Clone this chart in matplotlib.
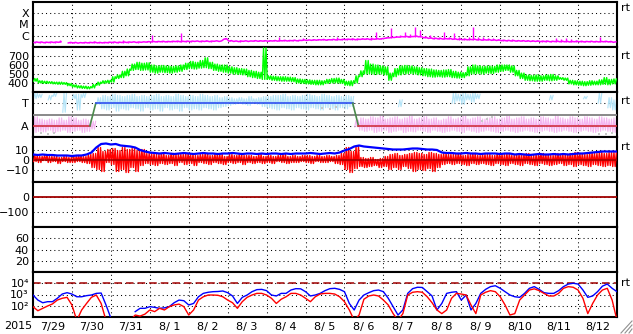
import numpy as np
import matplotlib
matplotlib.use("Agg")
import matplotlib.pyplot as plt
from matplotlib.ticker import NullLocator
from matplotlib.lines import Line2D

plt.rcParams['font.family'] = ['DejaVu Sans']

nan = np.nan
# ---------------- data ----------------
year_label = '2015'
day_labels = ['7/29', '7/30', '7/31', '8/ 1', '8/ 2', '8/ 3', '8/ 4', '8/ 5',
              '8/ 6', '8/ 7', '8/ 8', '8/ 9', '8/10', '8/11', '8/12']
electron_tick_labels = ['10\u2074', '10\u00b3', '10\u00b2']
win_hours = np.arange(0, 360, 3)      # 3-hour windows starting 7/29 00UT
pt_hours = np.arange(0, 363, 3)       # 3-hour samples

# GOES X-ray flux, window base / peak (units of 1e-7 W/m2)
xray_base = [2.5, 2.5, 2.4, 2.5, 2.5, 2.6, nan, 2.3,
             2.3, 2.2, 2.3, 2.3, 2.4, 2.3, 2.3, 2.4,
             2.5, 2.4, 2.5, 2.5, 2.6, 2.5, 2.6, 2.7,
             2.8, 2.8, 2.9, 2.8, 2.9, 3.0, 2.9, 3.0,
             3.0, 3.1, 3.0, 3.1, 3.0, 3.2, 3.1, 5.0,
             3.3, 3.1, 3.0, 3.2, 3.1, 3.3, 3.2, 3.3,
             3.2, 3.4, 3.3, 3.5, 3.4, 3.6, 3.5, 3.8,
             3.8, 3.9, 4.0, 4.2, 4.0, 4.3, 4.2, 4.4,
             4.5, 4.6, 4.4, 4.7, 4.8, 4.6, 4.9, 5.0,
             5.8, 6.5, 7.0, 7.5, 8.0, 7.5, 8.5, 8.0,
             6.5, 5.8, 5.4, 5.2, 5.0, 5.2, 4.8, 4.6,
             4.4, 4.3, 4.5, 4.2, 4.0, 4.1, 3.9, 3.8,
             3.6, 3.5, 3.4, 3.3, 3.3, 3.2, 3.1, 3.1,
             3.0, 3.0, 2.9, 3.0, 2.9, 2.9, 2.8, 2.9,
             2.9, 2.8, 2.9, 2.8, 2.8, 2.9, 2.8, 2.6]
xray_peak = [2.9, 2.8, 2.8, 2.9, 2.8, 4.0, nan, 2.6,
             2.6, 2.5, 2.7, 2.6, 3.5, 2.6, 2.6, 2.8,
             2.8, 2.8, 4.0, 2.9, 3.0, 3.0, 2.9, 3.1,
             11.7, 3.2, 3.3, 3.4, 3.3, 3.5, 16.0, 3.4,
             3.4, 3.6, 3.5, 4.5, 3.4, 3.6, 3.5, 6.3,
             3.9, 3.6, 4.0, 3.7, 3.6, 4.2, 3.8, 3.9,
             3.8, 4.5, 7.8, 4.0, 3.9, 4.5, 4.2, 6.0,
             4.6, 4.8, 5.0, 5.5, 4.8, 5.6, 8.5, 5.2,
             5.5, 5.8, 6.0, 6.5, 6.2, 7.0, 23.0, 6.2,
             7.0, 46.0, 10.0, 11.0, 22.0, 14.0, 63.0, 33.0,
             9.0, 12.0, 8.0, 7.5, 21.0, 8.0, 17.0, 7.0,
             6.5, 7.0, 60.0, 8.0, 7.0, 6.0, 6.5, 5.5,
             4.4, 4.2, 5.0, 4.0, 4.5, 4.0, 3.8, 4.0,
             3.6, 4.0, 3.5, 6.0, 5.0, 6.0, 5.5, 3.8,
             3.4, 3.5, 3.3, 3.4, 7.5, 3.5, 3.4, 3.0]

# Solar wind speed, window min / max (km/s)
speed_lo = [420, 400, 395, 395, 390, 385, 385, 370,
            355, 345, 340, 335, 345, 375, 395, 400,
            410, 450, 460, 480, 540, 550, 540, 545,
            520, 510, 520, 515, 510, 520, 530, 550,
            560, 555, 565, 570, 560, 540, 530, 520,
            510, 500, 495, 490, 470, 460, 450, 440,
            440, 430, 425, 420, 420, 415, 400, 395,
            390, 385, 380, 380, 395, 400, 400, 395,
            375, 370, 400, 470, 500, 500, 495, 500,
            490, 430, 470, 490, 500, 505, 500, 490,
            480, 470, 465, 470, 465, 470, 460, 455,
            460, 480, 500, 505, 500, 510, 505, 520,
            530, 540, 520, 480, 450, 430, 425, 420,
            420, 430, 425, 430, 440, 430, 390, 380,
            375, 370, 375, 380, 380, 385, 380, 390]
speed_hi = [450, 425, 420, 415, 410, 410, 405, 395,
            380, 370, 365, 360, 385, 410, 425, 430,
            470, 490, 530, 555, 610, 630, 620, 625,
            600, 590, 595, 590, 585, 590, 600, 620,
            640, 630, 650, 680, 630, 610, 600, 600,
            580, 570, 560, 555, 540, 530, 520, 790,
            480, 475, 470, 470, 465, 460, 445, 440,
            435, 430, 430, 425, 440, 450, 455, 440,
            420, 425, 480, 535, 650, 610, 600, 590,
            580, 510, 560, 590, 595, 590, 580, 570,
            560, 555, 545, 540, 545, 550, 530, 520,
            515, 580, 600, 590, 585, 590, 585, 600,
            600, 600, 590, 540, 510, 490, 485, 490,
            480, 490, 495, 480, 460, 455, 430, 425,
            420, 415, 425, 420, 435, 460, 440, 445]

# IMF sector (phi) scatter envelopes, panel level units (A=1, T=3)
toward_lo = [3.4, 3.5, nan, 3.3, 3.6, nan, 2.2, nan,
             3.4, 2.4, 3.5, nan, nan, 2.9, 2.5, 2.4,
             2.6, 2.3, 2.5, 2.4, 2.6, 2.5, 2.3, 2.6,
             2.4, 2.5, 2.3, 2.6, 2.4, 2.5, 2.3, 2.6,
             2.4, 2.5, 2.4, 2.6, 2.5, 2.4, 2.6, 2.7,
             2.8, 2.9, 3.0, 2.9, 2.8, 3.0, 2.9, 2.7,
             2.6, 2.5, 2.4, 2.6, 2.5, 2.4, 2.6, 2.5,
             2.4, 2.6, 2.5, 2.4, 2.6, 2.5, 2.4, 2.6,
             2.5, 2.7, nan, nan, nan, nan, nan, nan,
             nan, nan, nan, 2.7, nan, nan, nan, nan,
             nan, nan, nan, nan, nan, nan, 3.0, 3.2,
             2.9, 3.3, 3.1, 3.4, nan, nan, nan, nan,
             nan, nan, nan, nan, nan, nan, nan, nan,
             nan, nan, 3.3, nan, nan, nan, nan, nan,
             nan, 3.4, nan, nan, 3.0, nan, 2.6, 2.4]
toward_hi = [3.9, 3.8, nan, 3.7, 3.9, nan, 3.9, nan,
             3.8, 3.8, 3.9, nan, nan, 3.5, 3.7, 3.6,
             3.8, 3.7, 3.6, 3.7, 3.8, 3.6, 3.7, 3.6,
             3.7, 3.8, 3.6, 3.7, 3.6, 3.8, 3.7, 3.6,
             3.7, 3.6, 3.8, 3.7, 3.6, 3.7, 3.5, 3.6,
             3.5, 3.4, 3.5, 3.4, 3.6, 3.4, 3.5, 3.6,
             3.6, 3.7, 3.7, 3.8, 3.6, 3.7, 3.6, 3.7,
             3.8, 3.7, 3.6, 3.8, 3.7, 3.6, 3.7, 3.6,
             3.7, 3.6, nan, nan, nan, nan, nan, nan,
             nan, nan, nan, 3.3, nan, nan, nan, nan,
             nan, nan, nan, nan, nan, nan, 3.9, 3.8,
             3.9, 3.8, 3.9, 3.8, nan, nan, nan, nan,
             nan, nan, nan, nan, nan, nan, nan, nan,
             nan, nan, 3.7, nan, nan, nan, nan, nan,
             nan, 3.6, nan, nan, 3.9, nan, 3.5, 3.3]
away_lo = [0.4, 0.5, 0.45, 0.6, 0.4, 0.5, 0.6, 0.4,
           0.5, 0.6, 0.4, 0.5, 0.7, nan, nan, nan,
           nan, nan, nan, nan, nan, nan, nan, nan,
           nan, nan, nan, nan, nan, nan, nan, nan,
           nan, nan, nan, nan, nan, nan, nan, nan,
           nan, nan, nan, nan, nan, nan, nan, nan,
           nan, nan, nan, nan, nan, nan, nan, nan,
           nan, nan, nan, nan, nan, nan, nan, nan,
           nan, nan, 0.9, 0.6, 0.5, 0.6, 0.4, 0.5,
           0.6, 0.4, 0.5, 0.6, 0.4, 0.5, 0.45, 0.6,
           0.5, 0.4, 0.6, 0.5, 0.4, 0.5, 0.6, 0.5,
           0.4, 0.6, 0.5, 0.4, 0.5, 0.6, 0.5, 0.4,
           0.5, 0.6, 0.5, 0.4, 0.5, 0.6, 0.5, 0.4,
           0.5, 0.6, 0.5, 0.4, 0.5, 0.6, 0.5, 0.4,
           0.5, 0.6, 0.5, 0.4, 0.5, 0.6, 0.5, 0.4]
away_hi = [1.8, 1.6, 1.5, 1.6, 1.5, 1.7, 1.5, 1.8,
           1.7, 1.5, 1.6, 1.5, 1.4, nan, nan, nan,
           nan, nan, nan, nan, nan, nan, nan, nan,
           nan, nan, nan, nan, nan, nan, nan, nan,
           nan, nan, nan, nan, nan, nan, nan, nan,
           nan, nan, nan, nan, nan, nan, nan, nan,
           nan, nan, nan, nan, nan, nan, nan, nan,
           nan, nan, nan, nan, nan, nan, nan, nan,
           nan, nan, 1.5, 1.7, 1.6, 1.8, 1.7, 1.9,
           1.6, 1.7, 1.8, 1.6, 1.7, 1.9, 1.6, 1.7,
           1.8, 1.6, 1.7, 1.5, 1.6, 1.8, 1.6, 1.7,
           1.9, 1.6, 1.7, 1.8, 1.6, 1.7, 1.8, 1.6,
           1.7, 1.9, 1.6, 1.7, 1.8, 1.6, 1.7, 1.6,
           1.8, 1.7, 1.6, 1.9, 1.7, 1.6, 1.8, 1.7,
           1.6, 1.8, 1.7, 1.6, 1.8, 1.7, 1.6, 1.7]
gray_hours = [5, 9, 13, 178, 183, 187, 277, 280, 283, 349, 353, 357]
gray_level = [0.35, 0.3, 0.4, 2.6, 2.5, 2.7, 1.4, 1.6, 1.8, 0.3, 0.25, 0.35]
# Sector assignment (A=1, T=3)
sector_hours = [0, 35.1, 38.7, 197.1, 200.6, 360]
sector_level = [1, 1, 3, 3, 1, 1]

# IMF Bt (nT), 3-hour samples
bt = [5, 4.5, 5, 4.5, 4.5, 4, 4, 4, 3.5, 4, 4, 5, 7, 12, 15.5, 16,
      15, 15.5, 14, 13.5, 13, 12, 9.5, 8, 7, 6.5, 6, 6.5, 6, 5.5, 6, 6.5,
      6, 5.5, 6, 6.5, 6, 6, 5.5, 6, 6, 6.5, 6, 5.5, 6, 6, 5.5, 6,
      5.5, 6, 6, 5.5, 6, 5.5, 6, 6, 6, 6.5, 6, 5.5, 6, 6.5, 6, 7,
      9, 10.5, 13, 14, 13, 12.5, 12, 11.5, 11, 10.5, 10, 10, 10, 10.5, 11, 11,
      10.5, 10, 10, 9.5, 7, 6.5, 6.5, 6, 6, 6.5, 6, 6, 5.5, 6, 6, 6,
      5.5, 6, 6, 5, 5.5, 5, 4.5, 5, 5.5, 5, 5, 5.5, 5, 5.5, 5, 5.5,
      6, 6, 6.5, 7, 7.5, 8, 8, 8, 8]
# IMF Bz (nT), window min / max
bz_lo = [-2, -3, -1, -3, -2, -4, -2, -3, -3, -2, -3, -4, -8, -10, -12, -3,
         -5, -12, -10, -13, -8, -12, -6, -4, -5, -6, -4, -5, -4, -6, -3, -5,
         -4, -6, -3, -4, -5, -3, -4, -5, -3, -4, -3, -5, -3, -4, -3, -4,
         -3, -4, -2, -3, -4, -3, -3, -2, -3, -4, -2, -3, -3, -2, -4, -5,
         -10, -13, -9, -7, -8, -7, -6, -8, -7, -10, -8, -10, -7, -9, -12, -10,
         -11, -9, -12, -8, -5, -4, -5, -4, -5, -6, -4, -5, -4, -5, -6, -4,
         -5, -6, -4, -5, -6, -4, -5, -6, -4, -5, -6, -5, -4, -6, -5, -7,
         -5, -6, -7, -5, -6, -7, -6, -7]
bz_hi = [4, 3, 4, 3, 3, 2, 3, 2, 3, 4, 3, 5, 6, 12, 8, 10,
         11, 9, 12, 10, 11, 9, 10, 6, 6, 5, 6, 4, 6, 5, 5, 6,
         5, 4, 5, 6, 4, 5, 5, 3, 5, 4, 5, 4, 4, 3, 5, 3,
         4, 3, 4, 5, 3, 4, 3, 4, 4, 3, 4, 3, 4, 3, 4, 6,
         12, 8, 13, 2, 1, 2, 0, 1, 3, 5, 6, 4, 5, 6, 7, 6,
         5, 7, 6, 5, 6, 5, 5, 6, 4, 5, 6, 4, 5, 5, 4, 6,
         5, 6, 4, 5, 5, 6, 4, 5, 6, 5, 4, 6, 5, 5, 6, 7,
         6, 5, 7, 6, 7, 6, 7, 7]

# Dst (nT) reference line; electron alert threshold
dst_ref = 0
electron_alert = 1e4

# Electron flux (pfu), 3-hour samples
e_flux_low = [900, 320, 185, 230, 230, 460, 1100, 1450,
              1100, 630, 630, 790, 900, 1260, 1350, 117,
              8, nan, nan, nan, nan, 30, 59, 59,
              83, 72, 59, 65, 83, 185, 320, 280,
              117, 160, 630, 1260, 1580, 1780, 1850, 2050,
              1450, 740, 160, 560, 900, 1780, 2700, 2850,
              2200, 900, 740, 1260, 1260, 2500, 3300, 3200,
              1780, 740, 900, 1260, 2200, 3300, 3550, 2850,
              1780, 160, 42, 320, 900, 1450, 2200, 2500,
              1780, 460, 83, 15, 42, 1260, 3300, 4400,
              4200, 1780, 740, 42, 160, 1260, 1580, 1780,
              320, 900, 42, 160, 1260, 2850, 5000, 6000,
              3550, 1780, 900, 630, 560, 1260, 3550, 5000,
              2850, 1450, 1260, 1260, 2200, 5000, 8500, 10000,
              8500, 2500, 560, 740, 1780, 5500, 8500, 3550,
              1780]
e_flux_high = [83, 36, 59, 95, 145, 320, 460, 560,
               117, 5, 42, 160, 560, 900, 160, 5,
               nan, nan, nan, nan, 5, 15, 12, 18,
               42, 30, 59, 42, 83, 117, 140, 83,
               15, 42, 320, 630, 900, 900, 850, 630,
               320, 185, 59, 230, 560, 900, 1260, 1260,
               900, 460, 160, 380, 630, 1260, 1260, 900,
               460, 230, 630, 1100, 1260, 1260, 1100, 630,
               230, 42, 5, 15, 380, 740, 900, 740,
               320, 117, 20, 5, 20, 900, 1580, 1780,
               1580, 630, 185, 42, 20, 42, 460, 1260,
               1100, 900, 117, 20, 900, 1580, 2200, 1780,
               630, 117, 15, 20, 320, 900, 2500, 3200,
               2200, 1260, 740, 740, 1260, 3550, 5000, 4400,
               2500, 460, 20, 160, 900, 2500, 3550, 320,
               5]

# ---------------- drawing ----------------
W, H = 633, 334
L, R = 33, 617
PH = 45
fig = plt.figure(figsize=(W / 100, H / 100), dpi=100)
fig.patch.set_facecolor('white')

FS = 8
dot = (0, (1, 3))
DARKRED = '#a00000'

tw = win_hours / 24.0
tp = pt_hours / 24.0
step = 3 / 24.0


def zigzag(lo, hi, n=1):
    lo = np.asarray(lo, float)
    hi = np.asarray(hi, float)
    frac = (np.arange(2 * n) + 0.5) / (2 * n)
    t = (tw[:, None] + step * frac[None, :]).ravel()
    v = np.tile(np.column_stack([lo, hi]), (1, n)).ravel()
    return t, v


axes = []
for k in range(7):
    top = 2 + PH * k
    ax = fig.add_axes([L / W, 1 - (top + PH) / H, (R - L) / W, PH / H])
    ax.set_xlim(0, 15)
    ax.set_xticks(np.arange(1, 15))
    ax.set_xticklabels([])
    ax.tick_params(which='both', length=0, labelsize=FS, pad=3)
    ax.grid(True, which='major', color='black', linestyle=dot, linewidth=0.75)
    ax.set_axisbelow(True)
    for s in ax.spines.values():
        s.set_linewidth(1.5)
        s.set_color('black')
    axes.append(ax)

# Panel 1: X-ray
ax = axes[0]
ax.set_yscale('log')
ax.set_ylim(1e-7, 1e-3)
ax.set_yticks([1e-4, 1e-5, 1e-6])
ax.set_yticklabels(['X', 'M', 'C'])
ax.yaxis.set_minor_locator(NullLocator())
xb = np.asarray(xray_base, float) * 1e-7
xp = np.asarray(xray_peak, float) * 1e-7
ax.plot(*zigzag(xb, np.minimum(xp, xb * 1.12), n=1), color='#ff00ff', lw=1.1, zorder=3)
ax.vlines(tw + 0.5 * step, xb, xp, color='#ff00ff', lw=1.0, zorder=3)

# Panel 2: speed
ax = axes[1]
ax.set_ylim(300, 800)
ax.set_yticks([700, 600, 500, 400])
ax.plot(*zigzag(speed_lo, speed_hi, n=2), color='#00ff00', lw=1.0, zorder=3)

# Panel 3: sector
ax = axes[2]
ax.set_ylim(0, 4)
ax.set_yticks([3, 1])
ax.set_yticklabels(['T', 'A'])
ax.plot(*zigzag(toward_lo, toward_hi, n=2), color='#b4e4f8', lw=0.8, zorder=2)
ax.plot(*zigzag(away_lo, away_hi, n=2), color='#f4b4f0', lw=0.8, zorder=2)
ax.scatter(np.asarray(gray_hours) / 24.0, gray_level, s=3, marker='s',
           color='#c8c8c8', linewidths=0, zorder=2)
ax.axhline(2, color='#808080', lw=1.3, zorder=3)
sh = np.asarray(sector_hours) / 24.0
for j in range(len(sh) - 1):
    a, b = sector_level[j], sector_level[j + 1]
    if a != b:
        c = '#4a8a4a'
    elif a == 3:
        c = '#3050f0'
    else:
        c = '#d03040'
    ax.plot(sh[j:j + 2], sector_level[j:j + 2], color=c, lw=1.2, zorder=4)

# Panel 4: IMF
ax = axes[3]
ax.set_ylim(-22.5, 22.5)
ax.set_yticks([10, 0, -10])
ax.plot(*zigzag(bz_lo, bz_hi, n=2), color='#ff0000', lw=1.0, zorder=3)
ax.plot(tp, bt, color='#0000ff', lw=1.6, zorder=4)
ax.axhline(dst_ref, color=DARKRED, lw=1.1, zorder=5)

# Panel 5: Dst
ax = axes[4]
ax.set_ylim(-200, 100)
ax.set_yticks([0, -100])
ax.axhline(dst_ref, color=DARKRED, lw=1.3, zorder=3)

# Panel 6
ax = axes[5]
ax.set_ylim(0, 80)
ax.set_yticks([60, 40, 20])

# Panel 7: electrons
ax = axes[6]
ax.set_yscale('log')
ax.set_ylim(10, 1e5)
ax.set_yticks([1e4, 1e3, 1e2])
ax.set_yticklabels(electron_tick_labels)
ax.yaxis.set_minor_locator(NullLocator())
ax.axhline(electron_alert, color=DARKRED, lw=1.1, linestyle=(0, (5, 2.6)), zorder=2)
ax.plot(tp, e_flux_low, color='#0000ff', lw=1.0, zorder=3)
ax.plot(tp, e_flux_high, color='#ff0000', lw=1.0, zorder=3)
ax.set_xticks(np.arange(0.5, 15, 1), minor=True)
ax.set_xticklabels(day_labels, minor=True)
ax.tick_params(axis='x', which='minor', pad=3.5, labelsize=FS)

fig.text(18.5 / W, 1 - 326 / H, year_label, ha='center', va='center', fontsize=FS)
for y in [8, 56, 101, 147, 283]:
    fig.text(621 / W, 1 - y / H, 'rt', ha='left', va='center', fontsize=FS)

# window resize grip at the lower-right corner
for d in (4, 8, 12):
    fig.add_artist(Line2D([(633 - d) / W, 632 / W], [1 / H, (1 + d) / H],
                          color='#909090', lw=0.8))

fig.savefig('out.png', dpi=100, facecolor='white')
